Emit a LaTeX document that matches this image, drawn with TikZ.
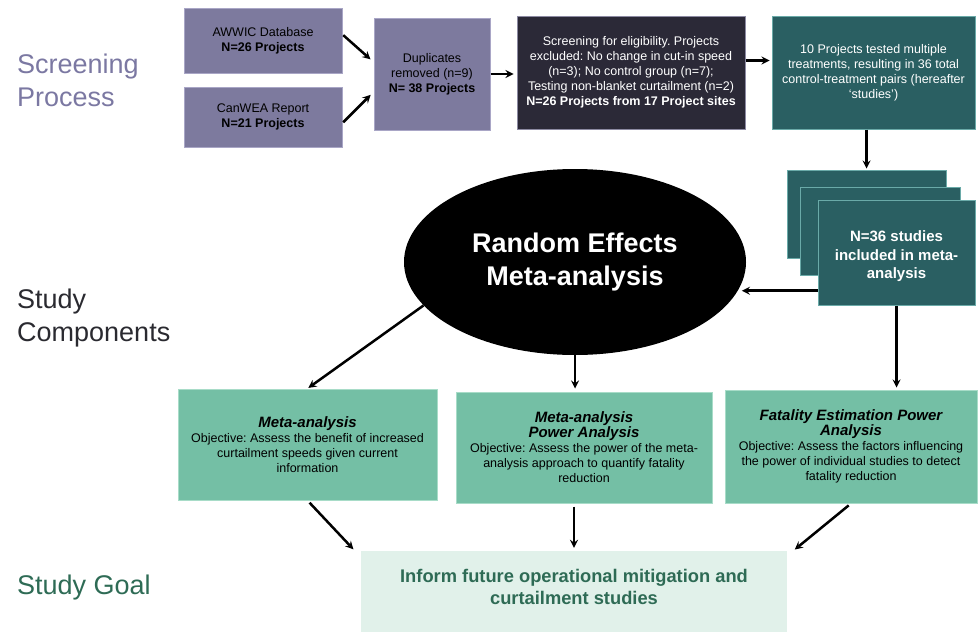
\documentclass[tikz,border=0pt]{standalone}
\usepackage{fontspec}
\setmainfont{Liberation Sans}
\usetikzlibrary{shapes.geometric}

\definecolor{srcfill}{HTML}{7D7A9E}
\definecolor{srcline}{HTML}{A9A6C6}
\definecolor{darkfill}{HTML}{2B2937}
\definecolor{darkline}{HTML}{8C8AA2}
\definecolor{tealfill}{HTML}{2A5F62}
\definecolor{tealline}{HTML}{6AAAA8}
\definecolor{objfill}{HTML}{74BFA5}
\definecolor{objline}{HTML}{A8DCC8}
\definecolor{goalfill}{HTML}{E1F1EA}
\definecolor{goaltext}{HTML}{2E6B55}
\definecolor{screentext}{HTML}{7B78A2}
\definecolor{comptext}{HTML}{2A2A30}

\tikzset{
  box/.style={draw,line width=1pt,inner sep=0pt,align=center,
    font=\fontsize{12.5}{15}\selectfont},
  srcbox/.style={box,fill=srcfill,draw=srcline,text=black},
  darkbox/.style={box,fill=darkfill,draw=darkline,text=white},
  tealbox/.style={box,fill=tealfill,draw=tealline,text=white},
  objbox/.style={box,fill=objfill,draw=objline,text=black},
  rowlabel/.style={anchor=west,align=left,inner sep=0pt,
    font=\fontsize{27}{33}\selectfont}
}
\newcommand{\objtitle}[1]{{\bfseries\itshape\fontsize{15}{19}\selectfont #1}}
\frenchspacing

\begin{document}
\begin{tikzpicture}[x=1pt,y=-1pt,>=stealth]
\useasboundingbox (0,0) rectangle (979,632);

% row labels
\node[rowlabel,text=screentext] (lscreen) at (17,80.5) {Screening\\Process};
\node[rowlabel,text=comptext] (lcomp) at (17,318) {Study\\Components};
\node[rowlabel,text=goaltext] (lgoal) at (17,588) {Study Goal};

% screening process
\node[srcbox,minimum width=158pt,minimum height=65pt] (awwic) at (263,40.5)
    {AWWIC Database\\\textbf{N=26 Projects}};
\node[srcbox,minimum width=158pt,minimum height=60pt] (canwea) at (263,117)
    {CanWEA Report\\\textbf{N=21 Projects}};
\node[srcbox,minimum width=116pt,minimum height=112pt] (dup) at (432,74)
    {Duplicates\\removed (n=9)\\\textbf{N= 38 Projects}};
\node[darkbox,minimum width=228pt,minimum height=113pt] (scr) at (631,72.5)
    {Screening for eligibility. Projects\\excluded: No change in cut-in speed\\(n=3); No control group (n=7);\\Testing non-blanket curtailment (n=2)\\\textbf{N=26 Projects from 17 Project sites}};
\node[tealbox,minimum width=203pt,minimum height=113pt] (proj) at (873.5,72.5)
    {10 Projects tested multiple\\treatments, resulting in 36 total\\control-treatment pairs (hereafter\\`studies')};

% stacked studies
\node[tealbox,minimum width=159pt,minimum height=88pt] (stack1) at (866.5,214) {};
\node[tealbox,minimum width=160pt,minimum height=88pt] (stack2) at (880,231) {};
\node[tealbox,minimum width=157pt,minimum height=105pt,
    font=\bfseries\fontsize{15}{18.5}\selectfont] (stack3) at (896.5,252.5)
    {\rule{0pt}{19pt}N=36 studies\\included in meta-\\analysis};

% study components
\node[ellipse,fill=black,inner sep=0pt,minimum width=342pt,minimum height=186pt,
    text=white,align=center,font=\bfseries\fontsize{27}{33}\selectfont] (re) at (575,262)
    {Random Effects\\Meta-analysis};

\node[objbox,minimum width=259pt,minimum height=111pt] (m1) at (307.5,444.5)
    {\objtitle{Meta-analysis}\\
     Objective: Assess the benefit of increased\\curtailment speeds given current\\information};
\node[objbox,minimum width=256pt,minimum height=111pt] (m2) at (584,447.5)
    {\objtitle{Meta-analysis}\\\objtitle{Power Analysis}\\
     Objective: Assess the power of the meta-\\analysis approach to quantify fatality\\reduction};
\node[objbox,minimum width=252pt,minimum height=113pt] (m3) at (851,446.5)
    {\objtitle{Fatality Estimation Power}\\\objtitle{Analysis}\\
     Objective: Assess the factors influencing\\the power of individual studies to detect\\fatality reduction};

% study goal
\node[fill=goalfill,inner sep=0pt,minimum width=426pt,minimum height=81pt,
    text=goaltext,align=center,font=\bfseries\fontsize{18.3}{22}\selectfont] (goal) at (574,591.5)
    {Inform future operational mitigation and\\curtailment studies\rule[-10pt]{0pt}{0pt}};

% arrows
\draw[->,line width=2.5pt,shorten <=1pt,shorten >=4pt]
    ([yshift=6pt]awwic.east) -- ([yshift=12pt]dup.west);
\draw[->,line width=2.5pt,shorten <=1pt,shorten >=4pt]
    ([yshift=-6pt]canwea.east) -- ([yshift=-18pt]dup.west);
\draw[->,line width=2.5pt,shorten >=3pt]
    (dup.east) -- (dup.east -| scr.west);
\draw[->,line width=2.5pt,shorten >=2pt]
    ([yshift=12pt]scr.east) -- ([yshift=12pt]scr.east -| proj.west);
\draw[->,line width=2.5pt,shorten >=1pt]
    (proj.south -| stack1.north) -- (stack1.north);
\draw[->,line width=2.5pt,shorten >=4pt]
    (re.-10 -| stack3.west) -- (re.-10);
\draw[->,line width=2.5pt,shorten >=1pt]
    (re.196) -- (m1.north);
\draw[->,line width=2.5pt,shorten >=3pt]
    (re.south) -- (re.south |- m2.north);
\draw[->,line width=2.5pt,shorten >=2pt]
    (stack3.south) -- (stack3.south |- m3.north);
\draw[->,line width=2.5pt,shorten <=3pt,shorten >=2pt]
    (m1.south) -- ([xshift=-6pt]goal.north west);
\draw[->,line width=2.5pt,shorten <=3pt,shorten >=3pt]
    (goal.north |- m2.south) -- (goal.north);
\draw[->,line width=2.5pt,shorten <=3pt,shorten >=2pt]
    (m3.south) -- ([xshift=6pt]goal.north east);
\end{tikzpicture}
\end{document}
